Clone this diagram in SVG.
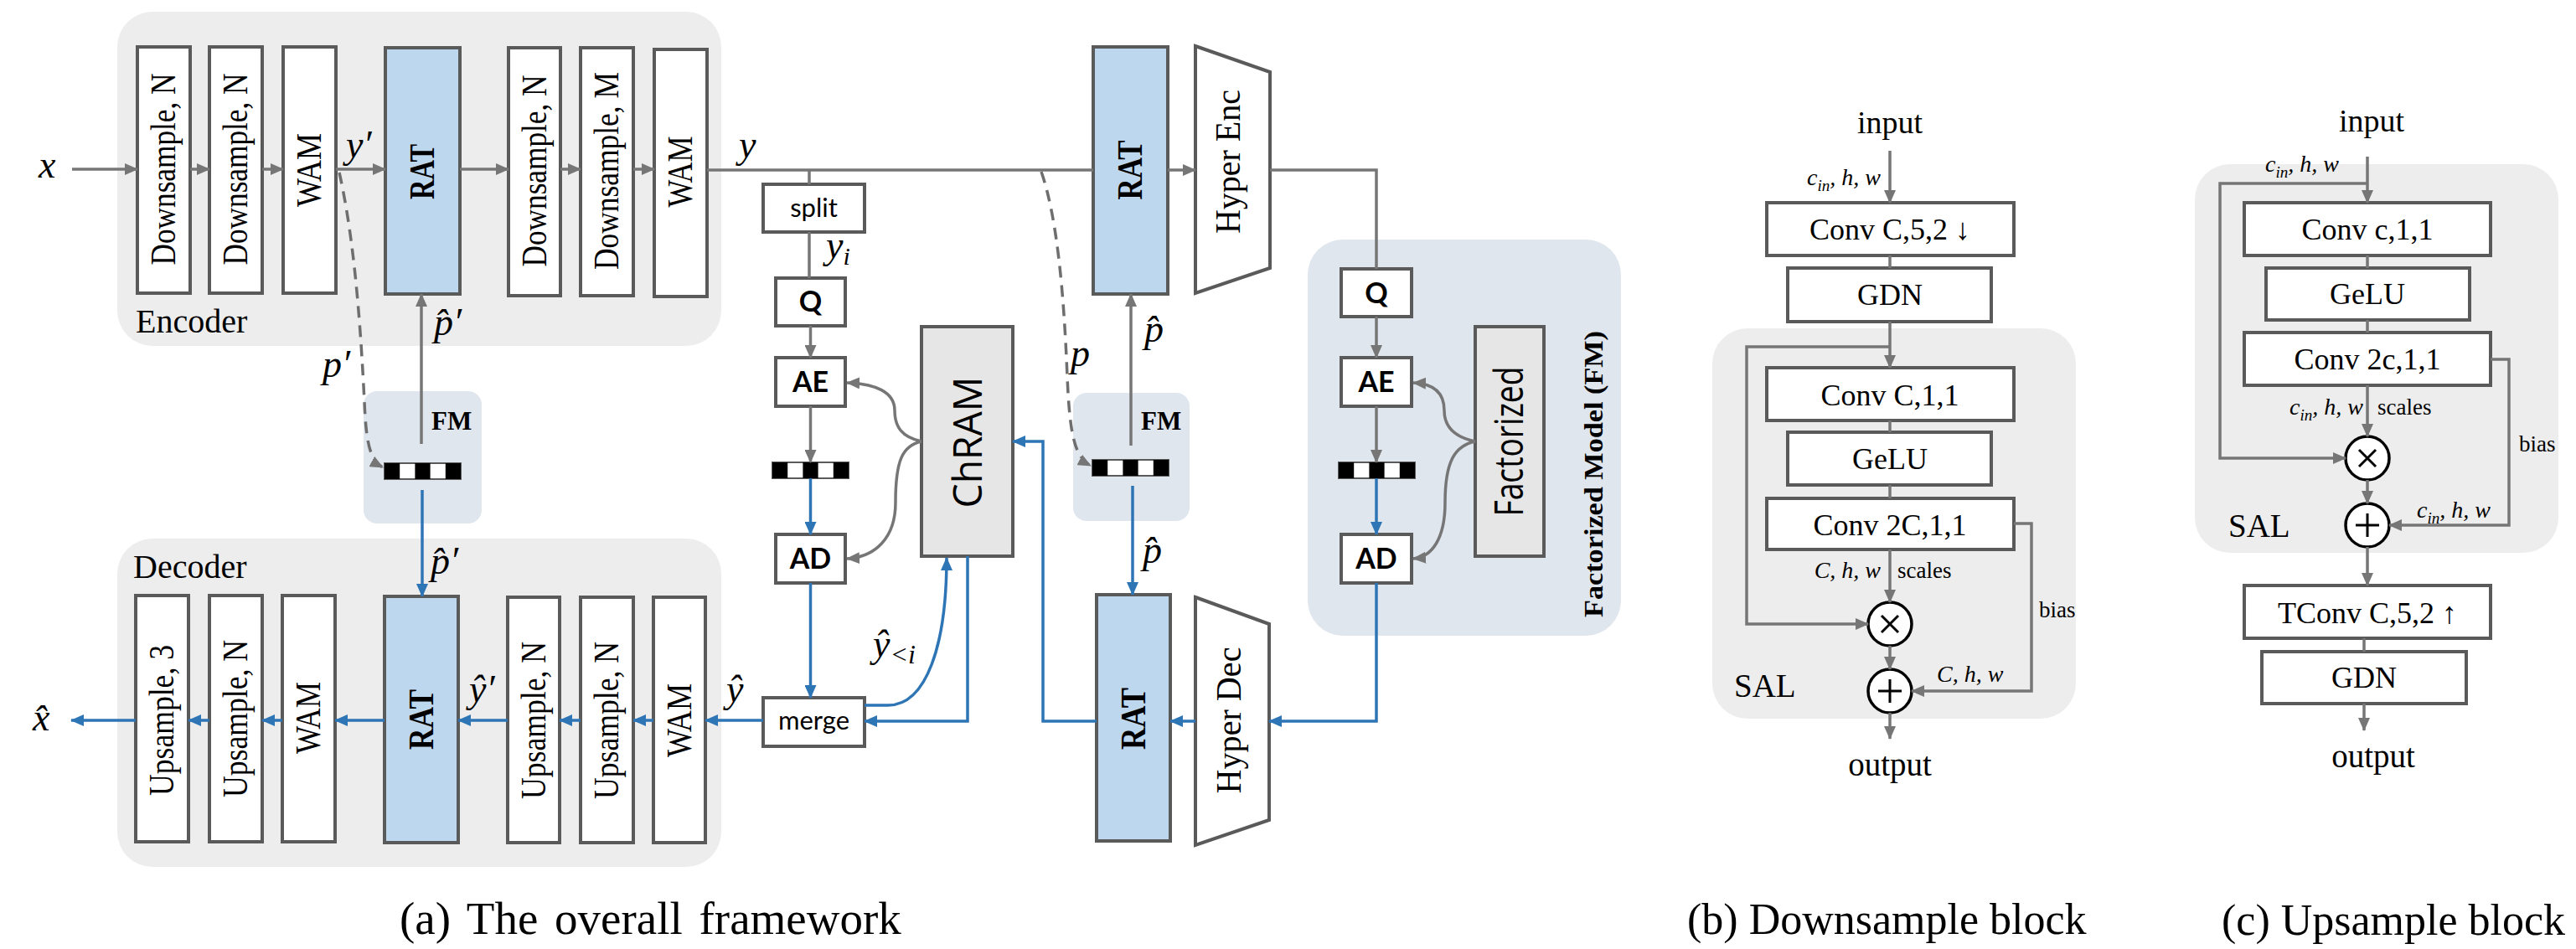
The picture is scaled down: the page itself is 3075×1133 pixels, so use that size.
<svg xmlns="http://www.w3.org/2000/svg" xmlns:xlink="http://www.w3.org/1999/xlink" width="3075" height="1133" viewBox="0 0 3075 1133">
<style>
.bx{fill:#fff;stroke:#5a5a5a;stroke-width:4}
.rat{fill:#bdd7ee;stroke:#5a5a5a;stroke-width:4}
.gy{fill:#e6e6e6;stroke:#5a5a5a;stroke-width:4}
.grp{fill:#ededed}
.fmb{fill:#dfe6ee}
.lg{fill:none;stroke:#767676;stroke-width:3.5}
.lb{fill:none;stroke:#2e75b6;stroke-width:3.5}
.dash{fill:none;stroke:#6e6e6e;stroke-width:3.5;stroke-dasharray:14 9}
.vt{font-family:"Liberation Serif",serif;font-size:42px;fill:#000}
.vb{font-family:"Liberation Serif",serif;font-size:42px;font-weight:bold;fill:#000}
.m{font-family:"Liberation Serif",serif;font-style:italic;font-size:46px;fill:#000}
.sm{font-family:"Liberation Serif",serif;font-style:italic;font-size:28px;fill:#000}
.t{font-family:"Liberation Serif",serif;fill:#000}
.sb{font-family:Lato,"Open Sans",sans-serif;font-weight:bold;font-size:34px;fill:#000}
.sr{font-family:Lato,"Open Sans",sans-serif;font-size:31px;fill:#000}
.os{font-family:"Open Sans","Noto Sans",sans-serif;font-size:48px;fill:#000}
.circ{fill:#fff;stroke:#000;stroke-width:3.5}
.op{stroke:#000;stroke-width:3}
</style>
<defs>
<marker id="ag" markerUnits="userSpaceOnUse" markerWidth="16" markerHeight="14" refX="15" refY="7" orient="auto"><path d="M0,0 L16,7 L0,14 z" fill="#767676"/></marker>
<marker id="ab" markerUnits="userSpaceOnUse" markerWidth="16" markerHeight="14" refX="15" refY="7" orient="auto"><path d="M0,0 L16,7 L0,14 z" fill="#2e75b6"/></marker>
<g id="bar"><rect x="0" y="0" width="91" height="19" fill="#fff" stroke="#5a5a5a" stroke-width="2"/><rect x="0" y="0" width="18.2" height="19" fill="#000"/><rect x="36.4" y="0" width="18.2" height="19" fill="#000"/><rect x="72.8" y="0" width="18.2" height="19" fill="#000"/></g>
</defs>
<rect width="3075" height="1133" fill="#fff"/>

<!-- backgrounds -->
<g id="encoder">
<rect class="grp" x="140" y="14" width="721" height="399" rx="42"/>
<text class="t" x="162" y="397" font-size="40">Encoder</text>
</g>
<g id="decoder">
<rect class="grp" x="140" y="643" width="721" height="392" rx="42"/>
<text class="t" x="159" y="690" font-size="40">Decoder</text>
</g>
<g id="fm1"><rect class="fmb" x="434" y="467" width="141" height="158" rx="16"/>
<text class="t" x="515" y="513" font-size="31" font-weight="bold">FM</text>
<use xlink:href="#bar" x="459" y="553"/></g>
<g id="fm2"><rect class="fmb" x="1281" y="469" width="139" height="153" rx="16"/>
<text class="t" x="1362" y="513" font-size="31" font-weight="bold">FM</text>
<use xlink:href="#bar" x="1304" y="549"/></g>
<g id="fm-big"><rect class="fmb" x="1561" y="286" width="374" height="473" rx="42"/>
<text class="t" font-size="32" font-weight="bold" text-anchor="middle" transform="translate(1913,566) rotate(-90)" textLength="342" lengthAdjust="spacingAndGlyphs">Factorized Model (FM)</text></g>

<!-- encoder blocks -->
<g id="enc-ds1"><rect class="bx" x="164" y="56" width="63" height="294"/><text class="vt" text-anchor="middle" transform="translate(209,202) rotate(-90)" textLength="229" lengthAdjust="spacingAndGlyphs">Downsample, N</text></g>
<g id="enc-ds2"><rect class="bx" x="250" y="56" width="63" height="294"/><text class="vt" text-anchor="middle" transform="translate(295,202) rotate(-90)" textLength="229" lengthAdjust="spacingAndGlyphs">Downsample, N</text></g>
<g id="enc-wam1"><rect class="bx" x="338" y="56" width="63" height="294"/><text class="vt" text-anchor="middle" transform="translate(383,203) rotate(-90)" textLength="88" lengthAdjust="spacingAndGlyphs">WAM</text></g>
<g id="enc-rat"><rect class="rat" x="460" y="57" width="89" height="294"/><text class="vb" text-anchor="middle" transform="translate(518,205) rotate(-90)" textLength="66" lengthAdjust="spacingAndGlyphs">RAT</text></g>
<g id="enc-ds3"><rect class="bx" x="607" y="57" width="62" height="296"/><text class="vt" text-anchor="middle" transform="translate(652,204) rotate(-90)" textLength="229" lengthAdjust="spacingAndGlyphs">Downsample, N</text></g>
<g id="enc-ds4"><rect class="bx" x="693" y="57" width="63" height="296"/><text class="vt" text-anchor="middle" transform="translate(738,204) rotate(-90)" textLength="236" lengthAdjust="spacingAndGlyphs">Downsample, M</text></g>
<g id="enc-wam2"><rect class="bx" x="781" y="59" width="63" height="295"/><text class="vt" text-anchor="middle" transform="translate(826,205) rotate(-90)" textLength="85" lengthAdjust="spacingAndGlyphs">WAM</text></g>

<!-- decoder blocks -->
<g id="dec-us1"><rect class="bx" x="162" y="711" width="63" height="294"/><text class="vt" text-anchor="middle" transform="translate(207,860) rotate(-90)" textLength="180" lengthAdjust="spacingAndGlyphs">Upsample, 3</text></g>
<g id="dec-us2"><rect class="bx" x="250" y="711" width="63" height="294"/><text class="vt" text-anchor="middle" transform="translate(295,858) rotate(-90)" textLength="188" lengthAdjust="spacingAndGlyphs">Upsample, N</text></g>
<g id="dec-wam1"><rect class="bx" x="337" y="711" width="63" height="294"/><text class="vt" text-anchor="middle" transform="translate(382,857) rotate(-90)" textLength="86" lengthAdjust="spacingAndGlyphs">WAM</text></g>
<g id="dec-rat"><rect class="rat" x="459" y="712" width="88" height="294"/><text class="vb" text-anchor="middle" transform="translate(517,859) rotate(-90)" textLength="72" lengthAdjust="spacingAndGlyphs">RAT</text></g>
<g id="dec-us3"><rect class="bx" x="606" y="713" width="62" height="293"/><text class="vt" text-anchor="middle" transform="translate(651,860) rotate(-90)" textLength="188" lengthAdjust="spacingAndGlyphs">Upsample, N</text></g>
<g id="dec-us4"><rect class="bx" x="693" y="713" width="63" height="293"/><text class="vt" text-anchor="middle" transform="translate(738,860) rotate(-90)" textLength="188" lengthAdjust="spacingAndGlyphs">Upsample, N</text></g>
<g id="dec-wam2"><rect class="bx" x="780" y="713" width="62" height="293"/><text class="vt" text-anchor="middle" transform="translate(825,860) rotate(-90)" textLength="88" lengthAdjust="spacingAndGlyphs">WAM</text></g>

<!-- entropy path -->
<g id="split"><rect class="bx" x="911" y="220" width="121" height="57"/><text class="sr" x="971.5" y="259" text-anchor="middle">split</text></g>
<g id="q1"><rect class="bx" x="926" y="332" width="83" height="57"/><text class="sb" x="967.5" y="372" text-anchor="middle">Q</text></g>
<g id="ae1"><rect class="bx" x="926" y="427" width="83" height="58"/><text class="sb" x="967.5" y="468" text-anchor="middle">AE</text></g>
<g id="bar1"><use xlink:href="#bar" x="922" y="552"/></g>
<g id="ad1"><rect class="bx" x="926" y="638" width="83" height="58"/><text class="sb" x="967.5" y="679" text-anchor="middle">AD</text></g>
<g id="merge"><rect class="bx" x="911" y="833" width="121" height="58"/><text class="sr" x="971.5" y="871" text-anchor="middle">merge</text></g>
<g id="chram"><rect class="gy" x="1100" y="390" width="109" height="274"/><text class="os" text-anchor="middle" transform="translate(1172,528) rotate(-90)" textLength="157" lengthAdjust="spacingAndGlyphs">ChRAM</text></g>

<!-- hyper path -->
<g id="hyp-rat1"><rect class="rat" x="1305" y="56" width="89" height="295"/><text class="vb" text-anchor="middle" transform="translate(1363,203) rotate(-90)" textLength="71" lengthAdjust="spacingAndGlyphs">RAT</text></g>
<g id="hyper-enc"><path class="bx" d="M1427,55 L1516,86 L1516,320 L1427,350 Z"/><text class="vt" text-anchor="middle" transform="translate(1480,193) rotate(-90)" textLength="172" lengthAdjust="spacingAndGlyphs">Hyper Enc</text></g>
<g id="hyp-rat2"><rect class="rat" x="1309" y="710" width="88" height="294"/><text class="vb" text-anchor="middle" transform="translate(1367,858) rotate(-90)" textLength="74" lengthAdjust="spacingAndGlyphs">RAT</text></g>
<g id="hyper-dec"><path class="bx" d="M1427,713 L1515,745 L1515,979 L1427,1009 Z"/><text class="vt" text-anchor="middle" transform="translate(1481,860) rotate(-90)" textLength="175" lengthAdjust="spacingAndGlyphs">Hyper Dec</text></g>
<g id="q2"><rect class="bx" x="1601" y="321" width="84" height="57"/><text class="sb" x="1643" y="362" text-anchor="middle">Q</text></g>
<g id="ae2"><rect class="bx" x="1601" y="427" width="84" height="58"/><text class="sb" x="1643" y="468" text-anchor="middle">AE</text></g>
<g id="bar3"><use xlink:href="#bar" x="1598" y="552"/></g>
<g id="ad2"><rect class="bx" x="1601" y="638" width="84" height="58"/><text class="sb" x="1643" y="679" text-anchor="middle">AD</text></g>
<g id="factorized"><rect class="gy" x="1761" y="390" width="82" height="274"/><text class="os" font-size="46" text-anchor="middle" transform="translate(1818,527) rotate(-90)" textLength="179" lengthAdjust="spacingAndGlyphs">Factorized</text></g>

<!-- connectors -->
<g id="connectors">
<line class="lg" x1="86" y1="202" x2="164" y2="202" marker-end="url(#ag)"/>
<line class="lg" x1="227" y1="202" x2="250" y2="202" marker-end="url(#ag)"/>
<line class="lg" x1="313" y1="202" x2="338" y2="202" marker-end="url(#ag)"/>
<line class="lg" x1="401" y1="202" x2="460" y2="202" marker-end="url(#ag)"/>
<line class="lg" x1="549" y1="202" x2="607" y2="202" marker-end="url(#ag)"/>
<line class="lg" x1="669" y1="202" x2="693" y2="202" marker-end="url(#ag)"/>
<line class="lg" x1="756" y1="202" x2="781" y2="202" marker-end="url(#ag)"/>
<line class="lg" x1="844" y1="203" x2="1305" y2="203"/>
<line class="lg" x1="1394" y1="203" x2="1427" y2="203" marker-end="url(#ag)"/>
<path class="lg" d="M1516,203 H1643 V321"/>
<line class="lg" x1="966" y1="203" x2="966" y2="220"/>
<line class="lg" x1="966" y1="277" x2="966" y2="332"/>
<line class="lg" x1="967.5" y1="389" x2="967.5" y2="427" marker-end="url(#ag)"/>
<line class="lg" x1="967.5" y1="485" x2="967.5" y2="552" marker-end="url(#ag)"/>
<line class="lb" x1="967.5" y1="571" x2="967.5" y2="638" marker-end="url(#ab)"/>
<line class="lb" x1="967.5" y1="696" x2="967.5" y2="833" marker-end="url(#ab)"/>
<path class="lg" d="M1100,527 C1077,522 1068,510 1068,490 C1068,468 1045,458 1011,457" marker-end="url(#ag)"/>
<path class="lg" d="M1100,527 C1077,532 1069,550 1069,600 C1069,642 1045,665 1011,667" marker-end="url(#ag)"/>
<path class="lb" d="M1155,664 V861 H1032" marker-end="url(#ab)"/>
<path class="lb" d="M1032,842 H1060 C1106,842 1130,770 1130,666" marker-end="url(#ab)"/>
<path class="lb" d="M1309,861 H1245 V527 H1209" marker-end="url(#ab)"/>
<line class="lb" x1="911" y1="860" x2="842" y2="860" marker-end="url(#ab)"/>
<line class="lb" x1="780" y1="860" x2="756" y2="860" marker-end="url(#ab)"/>
<line class="lb" x1="693" y1="860" x2="668" y2="860" marker-end="url(#ab)"/>
<line class="lb" x1="606" y1="860" x2="547" y2="860" marker-end="url(#ab)"/>
<line class="lb" x1="459" y1="860" x2="400" y2="860" marker-end="url(#ab)"/>
<line class="lb" x1="337" y1="860" x2="313" y2="860" marker-end="url(#ab)"/>
<line class="lb" x1="250" y1="860" x2="225" y2="860" marker-end="url(#ab)"/>
<line class="lb" x1="162" y1="860" x2="85" y2="860" marker-end="url(#ab)"/>
<line class="lg" x1="503" y1="530" x2="503" y2="351" marker-end="url(#ag)"/>
<line class="lb" x1="504" y1="585" x2="504" y2="712" marker-end="url(#ab)"/>
<line class="lg" x1="1350" y1="532" x2="1350" y2="351" marker-end="url(#ag)"/>
<line class="lb" x1="1352" y1="580" x2="1352" y2="710" marker-end="url(#ab)"/>
<line class="lb" x1="1427" y1="861" x2="1397" y2="861" marker-end="url(#ab)"/>
<path class="lb" d="M1643,696 V861 H1515" marker-end="url(#ab)"/>
<line class="lg" x1="1643" y1="378" x2="1643" y2="427" marker-end="url(#ag)"/>
<line class="lg" x1="1643" y1="485" x2="1643" y2="552" marker-end="url(#ag)"/>
<line class="lb" x1="1643" y1="571" x2="1643" y2="638" marker-end="url(#ab)"/>
<path class="lg" d="M1761,527 C1737,522 1724,510 1724,490 C1724,468 1710,458 1687,457" marker-end="url(#ag)"/>
<path class="lg" d="M1761,527 C1737,532 1725,550 1725,600 C1725,642 1710,665 1687,667" marker-end="url(#ag)"/>
<path class="dash" d="M405,206 C424,290 431,400 435,480 C437,530 442,550 457,558" marker-end="url(#ag)"/>
<path class="dash" d="M1243,205 C1262,260 1270,350 1274,450 C1277,520 1283,546 1302,556" marker-end="url(#ag)"/>
</g>

<!-- math labels -->
<g id="labels">
<text class="m" x="46" y="212">x</text>
<text class="m" x="413" y="188">y′</text>
<text class="m" x="882" y="188">y</text>
<text class="m" x="986" y="308">y<tspan font-size="30" dy="8">i</tspan></text>
<text class="m" x="518" y="400">p̂′</text>
<text class="m" x="385" y="450">p′</text>
<text class="m" x="514" y="685">p̂′</text>
<text class="m" x="39" y="872">x̂</text>
<text class="m" x="560" y="838">ŷ′</text>
<text class="m" x="867" y="838">ŷ</text>
<text class="m" x="1042" y="784">ŷ<tspan font-size="32" dy="8">&lt;i</tspan></text>
<text class="m" x="1278" y="437">p</text>
<text class="m" x="1366" y="408">p̂</text>
<text class="m" x="1364" y="672">p̂</text>
</g>

<!-- (b) Downsample block -->
<g id="down-sal"><rect class="grp" x="2044" y="392" width="434" height="466" rx="42"/><text class="t" x="2070" y="832" font-size="39">SAL</text></g>
<g id="down-conv1"><rect class="bx" x="2109" y="242" width="295" height="63"/><text class="t" x="2256" y="286" font-size="36" text-anchor="middle">Conv C,5,2 ↓</text></g>
<g id="down-gdn"><rect class="bx" x="2134" y="320" width="243" height="64"/><text class="t" x="2256" y="364" font-size="36" text-anchor="middle">GDN</text></g>
<g id="down-conv2"><rect class="bx" x="2109" y="439" width="295" height="63"/><text class="t" x="2256" y="484" font-size="36" text-anchor="middle">Conv C,1,1</text></g>
<g id="down-gelu"><rect class="bx" x="2134" y="516" width="243" height="63"/><text class="t" x="2256" y="560" font-size="36" text-anchor="middle">GeLU</text></g>
<g id="down-conv3"><rect class="bx" x="2109" y="595" width="295" height="61"/><text class="t" x="2256" y="639" font-size="36" text-anchor="middle">Conv 2C,1,1</text></g>
<g id="down-mul"><circle class="circ" cx="2256" cy="745" r="26"/><path class="op" d="M2246,735 L2266,755 M2266,735 L2246,755"/></g>
<g id="down-add"><circle class="circ" cx="2256" cy="825" r="26"/><path class="op" d="M2242,825 H2270 M2256,811 V839"/></g>
<g id="down-lines">
<line class="lg" x1="2256" y1="180" x2="2256" y2="242" marker-end="url(#ag)"/>
<line class="lg" x1="2256" y1="305" x2="2256" y2="320"/>
<line class="lg" x1="2256" y1="384" x2="2256" y2="439" marker-end="url(#ag)"/>
<path class="lg" d="M2256,414 H2085 V745 H2230" marker-end="url(#ag)"/>
<line class="lg" x1="2256" y1="502" x2="2256" y2="516"/>
<line class="lg" x1="2256" y1="579" x2="2256" y2="595"/>
<line class="lg" x1="2256" y1="656" x2="2256" y2="719" marker-end="url(#ag)"/>
<line class="lg" x1="2256" y1="771" x2="2256" y2="799" marker-end="url(#ag)"/>
<path class="lg" d="M2404,625 H2425 V825 H2282" marker-end="url(#ag)"/>
<line class="lg" x1="2256" y1="851" x2="2256" y2="882" marker-end="url(#ag)"/>
</g>
<g id="down-text">
<text class="t" x="2256" y="159" font-size="38" text-anchor="middle">input</text>
<text class="sm" x="2157" y="221">c<tspan font-size="19" dy="7">in</tspan><tspan dy="-7">, h, w</tspan></text>
<text class="sm" x="2245" y="690" text-anchor="end">C, h, w</text>
<text class="t" x="2265" y="690" font-size="27">scales</text>
<text class="t" x="2434" y="737" font-size="27">bias</text>
<text class="sm" x="2312" y="814">C, h, w</text>
<text class="t" x="2256" y="926" font-size="39" text-anchor="middle">output</text>
</g>

<!-- (c) Upsample block -->
<g id="up-sal"><rect class="grp" x="2620" y="196" width="434" height="464" rx="42"/><text class="t" x="2660" y="641" font-size="39">SAL</text></g>
<g id="up-conv1"><rect class="bx" x="2679" y="242" width="294" height="63"/><text class="t" x="2826" y="286" font-size="36" text-anchor="middle">Conv c,1,1</text></g>
<g id="up-gelu"><rect class="bx" x="2705" y="320" width="243" height="62"/><text class="t" x="2826" y="363" font-size="36" text-anchor="middle">GeLU</text></g>
<g id="up-conv2"><rect class="bx" x="2679" y="397" width="294" height="63"/><text class="t" x="2826" y="441" font-size="36" text-anchor="middle">Conv 2c,1,1</text></g>
<g id="up-mul"><circle class="circ" cx="2826" cy="547" r="26"/><path class="op" d="M2816,537 L2836,557 M2836,537 L2816,557"/></g>
<g id="up-add"><circle class="circ" cx="2826" cy="627" r="26"/><path class="op" d="M2812,627 H2840 M2826,613 V641"/></g>
<g id="up-tconv"><rect class="bx" x="2679" y="699" width="294" height="63"/><text class="t" x="2826" y="744" font-size="36" text-anchor="middle">TConv C,5,2 ↑</text></g>
<g id="up-gdn"><rect class="bx" x="2700" y="778" width="244" height="62"/><text class="t" x="2822" y="821" font-size="36" text-anchor="middle">GDN</text></g>
<g id="up-lines">
<line class="lg" x1="2826" y1="187" x2="2826" y2="242" marker-end="url(#ag)"/>
<path class="lg" d="M2826,219 H2650 V547 H2800" marker-end="url(#ag)"/>
<line class="lg" x1="2826" y1="305" x2="2826" y2="320"/>
<line class="lg" x1="2826" y1="382" x2="2826" y2="397"/>
<line class="lg" x1="2826" y1="460" x2="2826" y2="521" marker-end="url(#ag)"/>
<line class="lg" x1="2826" y1="573" x2="2826" y2="601" marker-end="url(#ag)"/>
<path class="lg" d="M2973,429 H2995 V627 H2852" marker-end="url(#ag)"/>
<line class="lg" x1="2826" y1="653" x2="2826" y2="699" marker-end="url(#ag)"/>
<line class="lg" x1="2822" y1="762" x2="2822" y2="778"/>
<line class="lg" x1="2822" y1="840" x2="2822" y2="872" marker-end="url(#ag)"/>
</g>
<g id="up-text">
<text class="t" x="2831" y="157" font-size="38" text-anchor="middle">input</text>
<text class="sm" x="2704" y="205">c<tspan font-size="19" dy="7">in</tspan><tspan dy="-7">, h, w</tspan></text>
<text class="sm" x="2733" y="495">c<tspan font-size="19" dy="7">in</tspan><tspan dy="-7">, h, w</tspan></text>
<text class="t" x="2838" y="495" font-size="27">scales</text>
<text class="t" x="3007" y="539" font-size="27">bias</text>
<text class="sm" x="2885" y="618">c<tspan font-size="19" dy="7">in</tspan><tspan dy="-7">, h, w</tspan></text>
<text class="t" x="2833" y="916" font-size="39" text-anchor="middle">output</text>
</g>

<!-- captions -->
<g id="captions">
<text class="t" x="477" y="1115" font-size="55" word-spacing="6">(a) The overall framework</text>
<text class="t" x="2014" y="1115" font-size="52">(b) Downsample block</text>
<text class="t" x="2652" y="1116" font-size="52">(c) Upsample block</text>
</g>
</svg>
